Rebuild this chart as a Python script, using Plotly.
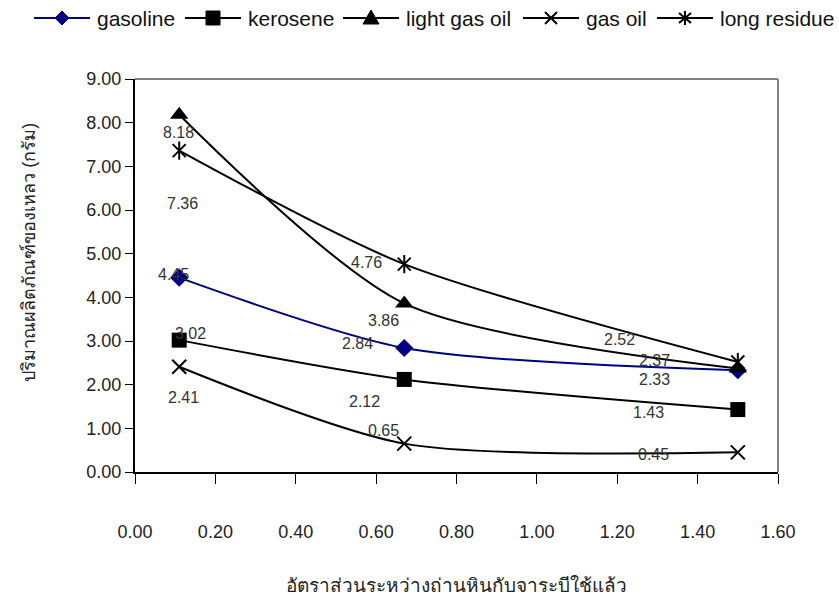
import plotly.graph_objects as go

# Coal : used-grease ratio
ratio = [0.11, 0.67, 1.5]

series_names = ["gasoline", "kerosene", "light gas oil", "gas oil", "long residue"]
gasoline = [4.45, 2.84, 2.33]
kerosene = [3.02, 2.12, 1.43]
light_gas_oil = [8.18, 3.86, 2.37]
gas_oil = [2.41, 0.65, 0.45]
long_residue = [7.36, 4.76, 2.52]

x_ticks = [0.0, 0.2, 0.4, 0.6, 0.8, 1.0, 1.2, 1.4, 1.6]
y_ticks = [0, 1, 2, 3, 4, 5, 6, 7, 8, 9]

x_title = "อัตราส่วนระหว่างถ่านหินกับจาระบีใช้แล้ว"
y_title = "ปริมาณผลิตภัณฑ์ของเหลว (กรัม)"

values = [gasoline, kerosene, light_gas_oil, gas_oil, long_residue]

# marker symbols; the six-armed star is an x plus a vertical bar
styles = [
    dict(color="#000080", symbols=["diamond"], size=14, lw=0,
         key_path="M0,7 L7,0 L0,-7 L-7,0 Z", key_fill=True),
    dict(color="#000000", symbols=["square"], size=15, lw=0,
         key_path="M-7,-7 L7,-7 L7,7 L-7,7 Z", key_fill=True),
    dict(color="#000000", symbols=["triangle-up"], size=16, lw=0,
         key_path="M-8,-6 L8,-6 L0,8 Z", key_fill=True),
    dict(color="#000000", symbols=["x-thin"], size=14, lw=2,
         key_path="M-6,-6 L6,6 M-6,6 L6,-6", key_fill=False),
    dict(color="#000000", symbols=["x-thin", "line-ns"], size=13, lw=2,
         key_path="M0,-7 L0,7 M-6,-5 L6,5 M-6,5 L6,-5", key_fill=False),
]

# pixel offsets of each value label from its point
label_shift = [
    [(-6, 3), (-47, 4), (-83, -9)],
    [(11, 7), (-40, -22), (-89, -3)],
    [(-1, -18), (-21, -17), (-83, 8)],
    [(4, -31), (-21, 13), (-84, -2)],
    [(3, -53), (-38, 2), (-118, 22)],
]

# figure geometry (px)
W, H = 839, 601
L, R, T, B = 135, 61, 79, 129
PW, PH = W - L - R, H - T - B

# key row along the top: left px of each sample line, its length, row height
key_left = [34, 185, 343, 523, 657]
key_len = 56
key_y = 18

FONT = "Liberation Sans, Arial, sans-serif"


def px_to_paper_x(px):
    return (px - L) / PW


def px_to_paper_y(py):
    return (H - B - py) / PH


fig = go.Figure()
annotations = []
shapes = []
for name, vals, st, shifts, kx in zip(series_names, values, styles, label_shift, key_left):
    fig.add_trace(go.Scatter(
        x=ratio, y=vals, name=name, mode="lines+markers", showlegend=False,
        line=dict(color=st["color"], width=2, shape="spline", smoothing=0.75),
        marker=dict(symbol=st["symbols"][0], size=st["size"], color=st["color"],
                    line=dict(color=st["color"], width=st["lw"])),
    ))
    for extra in st["symbols"][1:]:
        fig.add_trace(go.Scatter(
            x=ratio, y=vals, name=name, mode="markers", showlegend=False,
            marker=dict(symbol=extra, size=st["size"], color=st["color"],
                        line=dict(color=st["color"], width=st["lw"])),
        ))
    for xv, yv, (dx, dy) in zip(ratio, vals, shifts):
        annotations.append(dict(
            x=xv, y=yv, xref="x", yref="y", text=f"{yv:.2f}", showarrow=False,
            xshift=dx, yshift=dy, font=dict(family=FONT, size=16, color="#333333"),
        ))

    # key entry: sample line, symbol and name
    ky = px_to_paper_y(key_y)
    shapes.append(dict(type="line", xref="paper", yref="paper",
                       x0=px_to_paper_x(kx), x1=px_to_paper_x(kx + key_len), y0=ky, y1=ky,
                       line=dict(color=st["color"], width=2)))
    shapes.append(dict(
        type="path", xref="paper", yref="paper",
        xsizemode="pixel", ysizemode="pixel",
        xanchor=px_to_paper_x(kx + key_len / 2), yanchor=ky,
        path=st["key_path"],
        fillcolor=st["color"] if st["key_fill"] else "rgba(0,0,0,0)",
        line=dict(color=st["color"], width=1 if st["key_fill"] else 2),
    ))
    annotations.append(dict(
        x=px_to_paper_x(kx + key_len + 5), y=ky, xref="paper", yref="paper",
        text=name, showarrow=False, xanchor="left", yanchor="middle",
        font=dict(family=FONT, size=21, color="#111111"),
    ))

annotations.append(dict(
    x=0.5, y=-0.29, xref="paper", yref="paper", text=x_title, showarrow=False,
    xanchor="center", yanchor="middle", font=dict(family=FONT, size=19, color="#222222"),
))
annotations.append(dict(
    x=-0.165, y=0.56, xref="paper", yref="paper", text=y_title, showarrow=False,
    textangle=-90, xanchor="center", yanchor="middle",
    font=dict(family=FONT, size=18, color="#222222"),
))

shapes += [
    dict(type="line", xref="paper", yref="paper", x0=0, x1=1, y0=1, y1=1,
         line=dict(color="#808080", width=2)),
    dict(type="line", xref="paper", yref="paper", x0=1, x1=1, y0=0, y1=1,
         line=dict(color="#808080", width=2)),
]

fig.update_layout(
    width=W, height=H,
    margin=dict(l=L, r=R, t=T, b=B, autoexpand=False),
    paper_bgcolor="white", plot_bgcolor="white",
    font=dict(family=FONT, size=17, color="#222222"),
    showlegend=False,
    annotations=annotations,
    shapes=shapes,
    xaxis=dict(
        range=[0, 1.6], tickvals=x_ticks, ticktext=[f"{v:.2f}" for v in x_ticks],
        showgrid=False, zeroline=False, showline=True, linecolor="#000000", linewidth=2,
        ticks="outside", ticklen=10, tickcolor="#000000", tickwidth=1,
        ticklabelstandoff=32, tickfont=dict(family=FONT, size=18, color="#222222"),
    ),
    yaxis=dict(
        range=[0, 9], tickvals=y_ticks, ticktext=[f"{v:.2f}" for v in y_ticks],
        showgrid=False, zeroline=False, showline=True, linecolor="#000000", linewidth=2,
        ticks="outside", ticklen=8, tickcolor="#000000", tickwidth=1,
        tickfont=dict(family=FONT, size=18, color="#222222"),
    ),
)

fig.write_html("out.html")
